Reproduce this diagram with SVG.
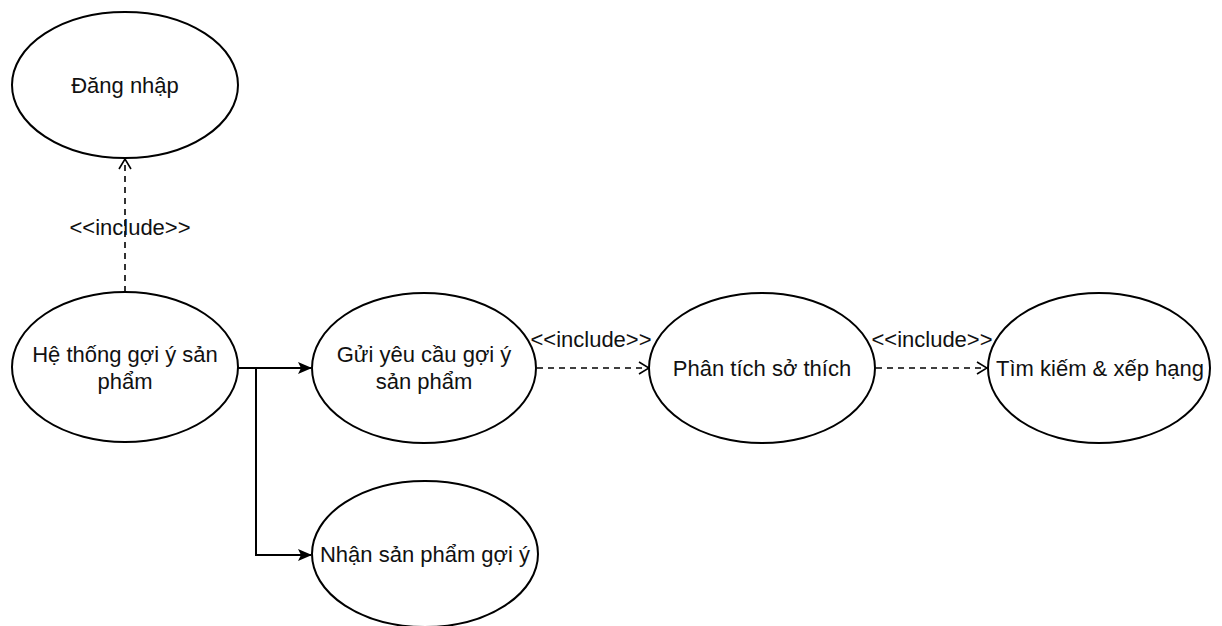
<svg xmlns="http://www.w3.org/2000/svg" width="1222" height="626" viewBox="0 0 1222 626">
  <style>
    .uc { fill: #ffffff; stroke: #000000; stroke-width: 2; }
    .lbl { font-family: "Liberation Sans", Arial, Helvetica, sans-serif; font-size: 22px; fill: #111111; text-anchor: middle; }
    .solid { fill: none; stroke: #000000; stroke-width: 2; }
    .dash { fill: none; stroke: #000000; stroke-width: 1.6; stroke-dasharray: 6 5; }
  </style>
  <defs>
    <marker id="block" viewBox="0 0 14 12" refX="13" refY="6" markerWidth="14" markerHeight="12" markerUnits="userSpaceOnUse" orient="auto">
      <path d="M0,0 L14,6 L0,12 L3,6 Z" fill="#000000"/>
    </marker>
    <marker id="open" viewBox="0 0 12 14" refX="11" refY="7" markerWidth="12" markerHeight="14" markerUnits="userSpaceOnUse" orient="auto">
      <path d="M1,1 L11,7 L1,13" fill="none" stroke="#000000" stroke-width="1.6"/>
    </marker>
  </defs>
  <rect width="1222" height="626" fill="#ffffff"/>

  <!-- connectors -->
  <g id="connectors">
    <path class="solid" d="M238,368 L311,368" marker-end="url(#block)"/>
    <path class="solid" d="M256,368 L256,555 L311,555" marker-end="url(#block)"/>
    <path class="dash" d="M125,292 L125,159" marker-end="url(#open)"/>
    <text class="lbl" x="130" y="235">&lt;&lt;include&gt;&gt;</text>
    <path class="dash" d="M537,368 L649,368" marker-end="url(#open)"/>
    <text class="lbl" x="591" y="347">&lt;&lt;include&gt;&gt;</text>
    <path class="dash" d="M876,368 L987,368" marker-end="url(#open)"/>
    <text class="lbl" x="932" y="347">&lt;&lt;include&gt;&gt;</text>
  </g>

  <g id="dang-nhap">
    <ellipse class="uc" cx="125" cy="85" rx="113" ry="73"/>
    <text class="lbl" x="125" y="93">Đăng nhập</text>
  </g>

  <g id="he-thong">
    <ellipse class="uc" cx="125" cy="367" rx="113" ry="75"/>
    <text class="lbl" x="125" y="362">Hệ thống gợi ý sản</text>
    <text class="lbl" x="125" y="389">phẩm</text>
  </g>

  <g id="gui-yeu-cau">
    <ellipse class="uc" cx="424" cy="368" rx="112" ry="75"/>
    <text class="lbl" x="424" y="362">Gửi yêu cầu gợi ý</text>
    <text class="lbl" x="424" y="389">sản phẩm</text>
  </g>

  <g id="phan-tich">
    <ellipse class="uc" cx="762" cy="368" rx="113" ry="75"/>
    <text class="lbl" x="762" y="376">Phân tích sở thích</text>
  </g>

  <g id="tim-kiem">
    <ellipse class="uc" cx="1099" cy="368" rx="111" ry="75"/>
    <text class="lbl" x="1100" y="376">Tìm kiếm &amp; xếp hạng</text>
  </g>

  <g id="nhan-san-pham">
    <ellipse class="uc" cx="425" cy="554" rx="113" ry="73"/>
    <text class="lbl" x="425" y="562">Nhận sản phẩm gợi ý</text>
  </g>
</svg>
